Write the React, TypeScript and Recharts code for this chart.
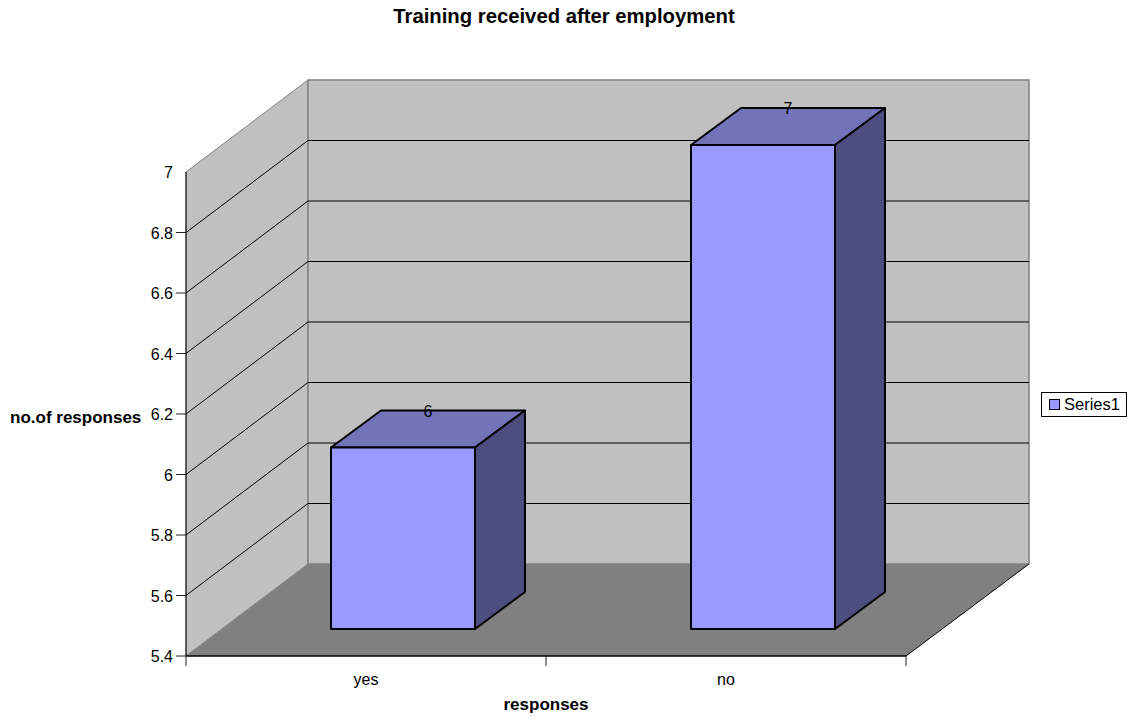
import { Bar, BarChart, CartesianGrid, Label, LabelList, Legend, ReferenceArea, XAxis, YAxis } from 'recharts'

const categories = ['yes', 'no']
const seriesName = 'Series1'
const values = [6, 7]
const yTicks = [5.4, 5.6, 5.8, 6, 6.2, 6.4, 6.6, 6.8, 7]

const data = categories.map((name, i) => ({ name, [seriesName]: values[i] }))

const FONT = '"Liberation Sans", Arial, sans-serif'

// wall depth of the 3D box, and the shift and depth of the columns inside it
const WALL_DX = 122
const WALL_DY = 92
const BAR_SHIFT_X = 37
const BAR_SHIFT_Y = 27
const BAR_DX = 50
const BAR_DY = 37

const pts = (list: number[][]) => list.map((p) => p.join(',')).join(' ')

function Walls({ x, y, width, height }: any) {
  const r = x + width
  const b = y + height
  return (
    <g>
      <polygon
        points={pts([[x, y], [x + WALL_DX, y - WALL_DY], [x + WALL_DX, b - WALL_DY], [x, b]])}
        fill="#c0c0c0"
        stroke="#808080"
        strokeWidth={1}
      />
      <rect
        x={x + WALL_DX}
        y={y - WALL_DY}
        width={width + 1}
        height={height}
        fill="#c0c0c0"
        stroke="#808080"
        strokeWidth={1.5}
      />
      <polygon
        points={pts([[x, b], [x + WALL_DX, b - WALL_DY], [r + WALL_DX + 1, b - WALL_DY], [r, b]])}
        fill="#808080"
      />
      <line x1={r} y1={b} x2={r + WALL_DX + 1} y2={b - WALL_DY} stroke="#000" strokeWidth={1} />
    </g>
  )
}

// a grid line runs up the side wall and then along the back wall
function gridLine(props: any) {
  const { x1, x2, y1, y, height, index } = props
  if (y1 <= y + 1 || y1 >= y + height - 1) return <g key={index} />
  return (
    <polyline
      key={index}
      points={pts([[x1, y1], [x1 + WALL_DX, y1 - WALL_DY], [x2 + WALL_DX + 1, y1 - WALL_DY]])}
      fill="none"
      stroke="#000"
      strokeWidth={1}
    />
  )
}

function Column({ x, y, width, height, fill }: any) {
  const l = x + BAR_SHIFT_X
  const r = l + width
  const t = y - BAR_SHIFT_Y
  const b = t + height
  return (
    <g stroke="#000" strokeWidth={2} strokeLinejoin="round">
      <polygon points={pts([[l, t], [l + BAR_DX, t - BAR_DY], [r + BAR_DX, t - BAR_DY], [r, t]])} fill="#7373ba" />
      <polygon points={pts([[r, t], [r + BAR_DX, t - BAR_DY], [r + BAR_DX, b - BAR_DY], [r, b]])} fill="#4d4d80" />
      <rect x={l} y={t} width={width} height={height} fill={fill} />
    </g>
  )
}

function ValueLabel({ x, y, width, value }: any) {
  return (
    <text
      x={x + width / 2 + BAR_SHIFT_X + BAR_DX / 2}
      y={y - BAR_SHIFT_Y - BAR_DY + 6}
      textAnchor="middle"
      fontSize={16}
      fontFamily={FONT}
      fill="#000"
    >
      {value}
    </text>
  )
}

function YTick({ x, y, payload }: any) {
  const top = payload.value === yTicks[yTicks.length - 1]
  return (
    <g>
      {!top && <line x1={x - 10} y1={y} x2={x} y2={y} stroke="#222" strokeWidth={1} />}
      <text x={x - 13} y={y + 6} textAnchor="end" fontSize={16} fontFamily={FONT} fill="#000">
        {payload.value}
      </text>
    </g>
  )
}

const HALF_BAND = 180

function XTick({ x, y, payload, index }: any) {
  return (
    <g>
      <line x1={x - HALF_BAND} y1={y} x2={x - HALF_BAND} y2={y + 10} stroke="#222" strokeWidth={1} />
      {index === categories.length - 1 && (
        <line x1={x + HALF_BAND} y1={y} x2={x + HALF_BAND} y2={y + 10} stroke="#222" strokeWidth={1} />
      )}
      <text x={x} y={y + 29} textAnchor="middle" fontSize={16} fontFamily={FONT} fill="#000">
        {payload.value}
      </text>
    </g>
  )
}

function LegendBox() {
  return (
    <div
      style={{
        boxSizing: 'border-box',
        width: 86,
        height: 25,
        border: '1px solid #000',
        background: '#fff',
        display: 'flex',
        alignItems: 'center',
        fontFamily: FONT,
        fontSize: 16.5,
        color: '#000',
      }}
    >
      <span
        style={{
          boxSizing: 'border-box',
          width: 11,
          height: 11,
          margin: '0 4px 0 7px',
          border: '1px solid #000',
          background: '#9999ff',
        }}
      />
      {seriesName}
    </div>
  )
}

export default function App() {
  return (
    <div style={{ position: 'absolute', left: 0, top: 0, width: 1127, height: 717, background: '#fff' }}>
      <BarChart
        width={1127}
        height={717}
        data={data}
        margin={{ top: 172, right: 135, bottom: 21, left: 126 }}
        barSize={144}
      >
        <text
          x={564}
          y={23}
          textAnchor="middle"
          fontSize={20.3}
          fontWeight="bold"
          fontFamily={FONT}
          fill="#000"
        >
          Training received after employment
        </text>
        <ReferenceArea y1={5.4} y2={7} shape={<Walls />} zIndex={-200} ifOverflow="visible" />
        <CartesianGrid vertical={false} horizontal={gridLine} />
        <XAxis
          dataKey="name"
          height={40}
          axisLine={{ stroke: '#000', strokeWidth: 1.5 }}
          tickLine={false}
          tickSize={0}
          tickMargin={0}
          tick={<XTick />}
          interval={0}
        >
          <Label
            value="responses"
            position="insideBottom"
            offset={-14}
            fontSize={17}
            fontWeight="bold"
            fontFamily={FONT}
            fill="#000"
          />
        </XAxis>
        <YAxis
          width={60}
          domain={[5.4, 7]}
          ticks={yTicks}
          interval={0}
          axisLine={{ stroke: '#000', strokeWidth: 1 }}
          tickLine={false}
          tickSize={0}
          tickMargin={0}
          tick={<YTick />}
        />
        <text x={10} y={423} fontSize={17} fontWeight="bold" fontFamily={FONT} fill="#000">
          no.of responses
        </text>
        <Legend
          layout="vertical"
          align="right"
          verticalAlign="middle"
          width={86}
          content={<LegendBox />}
          wrapperStyle={{ left: 1041, top: 392, right: 'auto' }}
        />
        <Bar dataKey={seriesName} fill="#9999ff" shape={<Column />} isAnimationActive={false}>
          <LabelList dataKey={seriesName} content={<ValueLabel />} />
        </Bar>
      </BarChart>
    </div>
  )
}
